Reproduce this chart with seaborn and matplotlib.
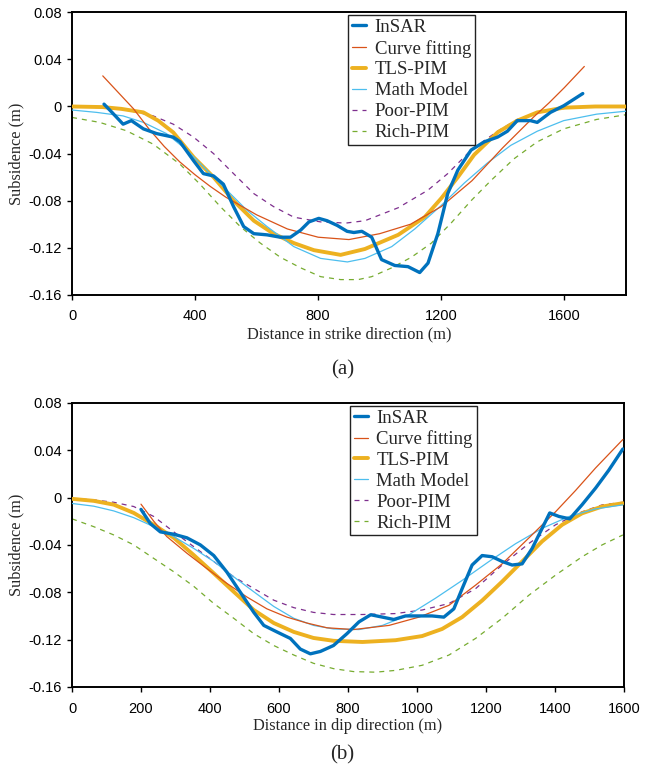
import numpy as np
import pandas as pd
import matplotlib
matplotlib.use('Agg')
import matplotlib.pyplot as plt
import seaborn as sns

# ---- panel (a): strike direction ----
a_insar_x = [104, 130, 166, 193, 232, 275, 329, 351, 395, 427, 460, 492, 525,
             558, 591, 634, 677, 710, 743, 770, 802, 829, 862, 894, 916, 942,
             974, 1006, 1049, 1092, 1130, 1157, 1189, 1221, 1254, 1297, 1340,
             1383, 1415, 1447, 1490, 1512, 1555, 1598, 1660]
a_insar = [0.002, -0.005, -0.015, -0.012, -0.019, -0.023, -0.026, -0.030,
           -0.046, -0.057, -0.059, -0.066, -0.085, -0.102, -0.108, -0.109,
           -0.111, -0.111, -0.105, -0.098, -0.095, -0.097, -0.101, -0.106,
           -0.107, -0.106, -0.111, -0.130, -0.135, -0.136, -0.141, -0.133,
           -0.108, -0.074, -0.054, -0.037, -0.030, -0.026, -0.021, -0.012,
           -0.012, -0.0135, -0.005, 0.0006, 0.011]
a_fit_x = [100, 150, 200, 250, 300, 350, 400, 450, 500, 600, 700, 800, 900,
           1000, 1100, 1200, 1300, 1400, 1450, 1500, 1550, 1600, 1665]
a_fit = [0.026, 0.012, -0.002, -0.019, -0.034, -0.047, -0.058, -0.068,
         -0.077, -0.092, -0.104, -0.111, -0.113, -0.108, -0.100, -0.085,
         -0.063, -0.035, -0.022, -0.009, 0.003, 0.016, 0.034]
a_tls_x = [0, 100, 160, 232, 280, 329, 395, 460, 525, 591, 655, 721, 786, 873,
           952, 1060, 1146, 1200, 1254, 1307, 1383, 1447, 1512, 1598, 1700,
           1800]
a_tls = [0, -0.0005, -0.002, -0.005, -0.012, -0.022, -0.043, -0.060, -0.080,
         -0.097, -0.108, -0.116, -0.122, -0.126, -0.121, -0.109, -0.094,
         -0.078, -0.060, -0.041, -0.022, -0.012, -0.005, -0.001, 0, 0]
a_math_x = [0, 80, 166, 232, 307, 373, 438, 503, 568, 634, 721, 808, 895,
            952, 1039, 1114, 1200, 1275, 1350, 1426, 1512, 1598, 1705, 1800]
a_math = [-0.003, -0.005, -0.008, -0.0135, -0.023, -0.037, -0.054, -0.071,
          -0.088, -0.102, -0.119, -0.129, -0.132, -0.129, -0.119, -0.104,
          -0.084, -0.065, -0.048, -0.033, -0.021, -0.012, -0.0065, -0.004]
a_poor_x = [0, 100, 177, 264, 329, 395, 460, 525, 591, 655, 721, 808, 890,
            952, 1060, 1157, 1221, 1297, 1383, 1447, 1533, 1619, 1700, 1800]
a_poor = [0, -0.001, -0.003, -0.008, -0.015, -0.026, -0.040, -0.057, -0.074,
          -0.085, -0.094, -0.098, -0.099, -0.097, -0.086, -0.071, -0.057,
          -0.037, -0.021, -0.011, -0.004, -0.001, 0, 0]
a_rich_x = [0, 90, 177, 264, 351, 416, 482, 547, 612, 677, 743, 808, 873,
            930, 974, 1039, 1103, 1168, 1232, 1297, 1361, 1436, 1512, 1598,
            1705, 1800]
a_rich = [-0.0093, -0.0135, -0.0206, -0.032, -0.049, -0.066, -0.085, -0.102,
          -0.116, -0.128, -0.137, -0.1445, -0.147, -0.147, -0.1445, -0.137,
          -0.128, -0.116, -0.099, -0.080, -0.063, -0.0445, -0.030, -0.019,
          -0.011, -0.007]

# ---- panel (b): dip direction ----
b_insar_x = [200, 227, 256, 295, 333, 372, 411, 449, 488, 527, 556, 594, 633,
             662, 691, 720, 758, 797, 832, 866, 900, 933, 967, 1006, 1044,
             1078, 1107, 1131, 1160, 1189, 1218, 1247, 1276, 1305, 1334, 1363,
             1385, 1412, 1443, 1479, 1518, 1556, 1597]
b_insar = [-0.010, -0.022, -0.029, -0.031, -0.034, -0.040, -0.049, -0.063,
           -0.080, -0.097, -0.108, -0.1135, -0.119, -0.128, -0.132, -0.130,
           -0.125, -0.115, -0.105, -0.099, -0.101, -0.103, -0.100, -0.100,
           -0.100, -0.101, -0.094, -0.077, -0.057, -0.049, -0.050, -0.054,
           -0.057, -0.056, -0.043, -0.026, -0.013, -0.016, -0.018, -0.006,
           0.008, 0.023, 0.041]
b_fit_x = [200, 237, 275, 333, 391, 449, 507, 565, 623, 681, 739, 816, 919,
           1006, 1093, 1170, 1247, 1325, 1402, 1460, 1518, 1597]
b_fit = [-0.0056, -0.020, -0.033, -0.047, -0.060, -0.0725, -0.084, -0.094,
         -0.101, -0.106, -0.110, -0.1115, -0.108, -0.101, -0.091, -0.074,
         -0.056, -0.034, -0.012, 0.006, 0.025, 0.049]
b_tls_x = [0, 63, 121, 179, 237, 295, 353, 411, 469, 527, 585, 643, 700, 758,
           842, 938, 1015, 1073, 1131, 1189, 1247, 1305, 1363, 1421, 1479,
           1537, 1597]
b_tls = [-0.0011, -0.0028, -0.006, -0.013, -0.023, -0.034, -0.0486, -0.064,
         -0.0796, -0.095, -0.106, -0.1135, -0.1186, -0.121, -0.122, -0.1205,
         -0.117, -0.111, -0.101, -0.087, -0.071, -0.054, -0.037, -0.023,
         -0.0133, -0.0076, -0.0048]
b_math_x = [0, 63, 121, 179, 237, 295, 353, 411, 469, 527, 585, 643, 700, 758,
            832, 900, 977, 1054, 1131, 1209, 1286, 1363, 1441, 1518, 1597]
b_math = [-0.005, -0.0073, -0.0113, -0.017, -0.0246, -0.033, -0.043, -0.054,
          -0.067, -0.0796, -0.092, -0.102, -0.108, -0.111, -0.1115, -0.108,
          -0.099, -0.085, -0.070, -0.054, -0.039, -0.026, -0.016, -0.0096,
          -0.0062]
b_poor_x = [0, 63, 121, 179, 237, 295, 353, 411, 469, 527, 585, 643, 700, 758,
            842, 938, 1015, 1093, 1170, 1247, 1325, 1402, 1479, 1537, 1597]
b_poor = [-0.0008, -0.002, -0.004, -0.0076, -0.016, -0.029, -0.0415, -0.054,
          -0.067, -0.0768, -0.0867, -0.093, -0.097, -0.0988, -0.0988, -0.098,
          -0.095, -0.0895, -0.077, -0.057, -0.0387, -0.023, -0.012, -0.0062,
          -0.004]
b_rich_x = [0, 63, 121, 179, 237, 295, 353, 411, 469, 527, 585, 643, 700, 758,
            816, 880, 938, 1015, 1093, 1170, 1247, 1325, 1402, 1479, 1537,
            1597]
b_rich = [-0.018, -0.0246, -0.0316, -0.040, -0.0514, -0.0627, -0.075, -0.0895,
          -0.102, -0.115, -0.125, -0.133, -0.140, -0.1445, -0.147, -0.1475,
          -0.146, -0.1417, -0.133, -0.119, -0.102, -0.0824, -0.0655, -0.050,
          -0.040, -0.0316]

y_ticks = [0.08, 0.04, 0, -0.04, -0.08, -0.12, -0.16]
y_tick_labels = ['0.08', '0.04', '0', '-0.04', '-0.08', '-0.12', '-0.16']

sns.set_theme(style='ticks')
plt.rcParams['font.family'] = ['Liberation Sans', 'DejaVu Sans']
serif = ['Liberation Serif', 'DejaVu Serif']

fig = plt.figure(figsize=(6.57, 7.68), dpi=100)
ax_a = fig.add_axes([0.1096, 0.616, 0.843, 0.368])
ax_b = fig.add_axes([0.1096, 0.1055, 0.840, 0.370])


def draw(ax, series):
    styles = [
        ('InSAR', '#0072BD', 2.4, '', 5),
        ('Curve fitting', '#D95319', 0.9, '', 4),
        ('TLS-PIM', '#EDB120', 2.8, '', 3),
        ('Math Model', '#4DBEEE', 0.9, '', 3),
        ('Poor-PIM', '#7E2F8E', 0.9, (4, 4), 2),
        ('Rich-PIM', '#77AC30', 0.9, (4, 4), 2),
    ]
    for (x, y), (name, col, lw, dash, z) in zip(series, styles):
        kw = {'dashes': dash} if dash else {}
        sns.lineplot(x=x, y=y, ax=ax, color=col, lw=lw, label=name,
                     sort=False, estimator=None, zorder=z, **kw)
    ax.set_ylim(-0.16, 0.08)
    ax.set_yticks(y_ticks)
    ax.set_yticklabels(y_tick_labels)
    ax.set_ylabel('Subsidence (m)', family=serif, fontsize=11.8, labelpad=3)
    for s in ax.spines.values():
        s.set_linewidth(1.4)
        s.set_color('black')
    ax.tick_params(direction='out', length=3.5, width=1.0, labelsize=10.5,
                   colors='black')
    ax.tick_params(axis='y', pad=4)
    ax.tick_params(axis='x', pad=7)


draw(ax_a, [(a_insar_x, a_insar), (a_fit_x, a_fit), (a_tls_x, a_tls),
            (a_math_x, a_math), (a_poor_x, a_poor), (a_rich_x, a_rich)])
ax_a.set_xlim(0, 1800)
ax_a.set_xticks([0, 400, 800, 1200, 1600])
ax_a.set_xlabel('Distance in strike direction (m)', family=serif,
                fontsize=11.8, labelpad=2)

draw(ax_b, [(b_insar_x, b_insar), (b_fit_x, b_fit), (b_tls_x, b_tls),
            (b_math_x, b_math), (b_poor_x, b_poor), (b_rich_x, b_rich)])
ax_b.set_xlim(0, 1600)
ax_b.set_xticks([0, 200, 400, 600, 800, 1000, 1200, 1400, 1600])
ax_b.set_xlabel('Distance in dip direction (m)', family=serif,
                fontsize=11.8, labelpad=2)

for ax, anchor in [(ax_a, (0.499, 0.99)), (ax_b, (0.504, 0.99))]:
    leg = ax.legend(loc='upper left', bbox_to_anchor=anchor,
                    prop={'family': serif, 'size': 13.5}, frameon=True,
                    fancybox=False, edgecolor='#222222', framealpha=1,
                    borderpad=0.2, labelspacing=0.2, handlelength=0.75,
                    handletextpad=0.45, borderaxespad=0)
    leg.get_frame().set_linewidth(1.0)

fig.text(0.5213, 1 - 370 / 768, '(a)', family=serif, fontsize=15,
         ha='center', va='center')
fig.text(0.5213, 1 - 755 / 768, '(b)', family=serif, fontsize=15,
         ha='center', va='center')

fig.savefig('out.png', dpi=100)
